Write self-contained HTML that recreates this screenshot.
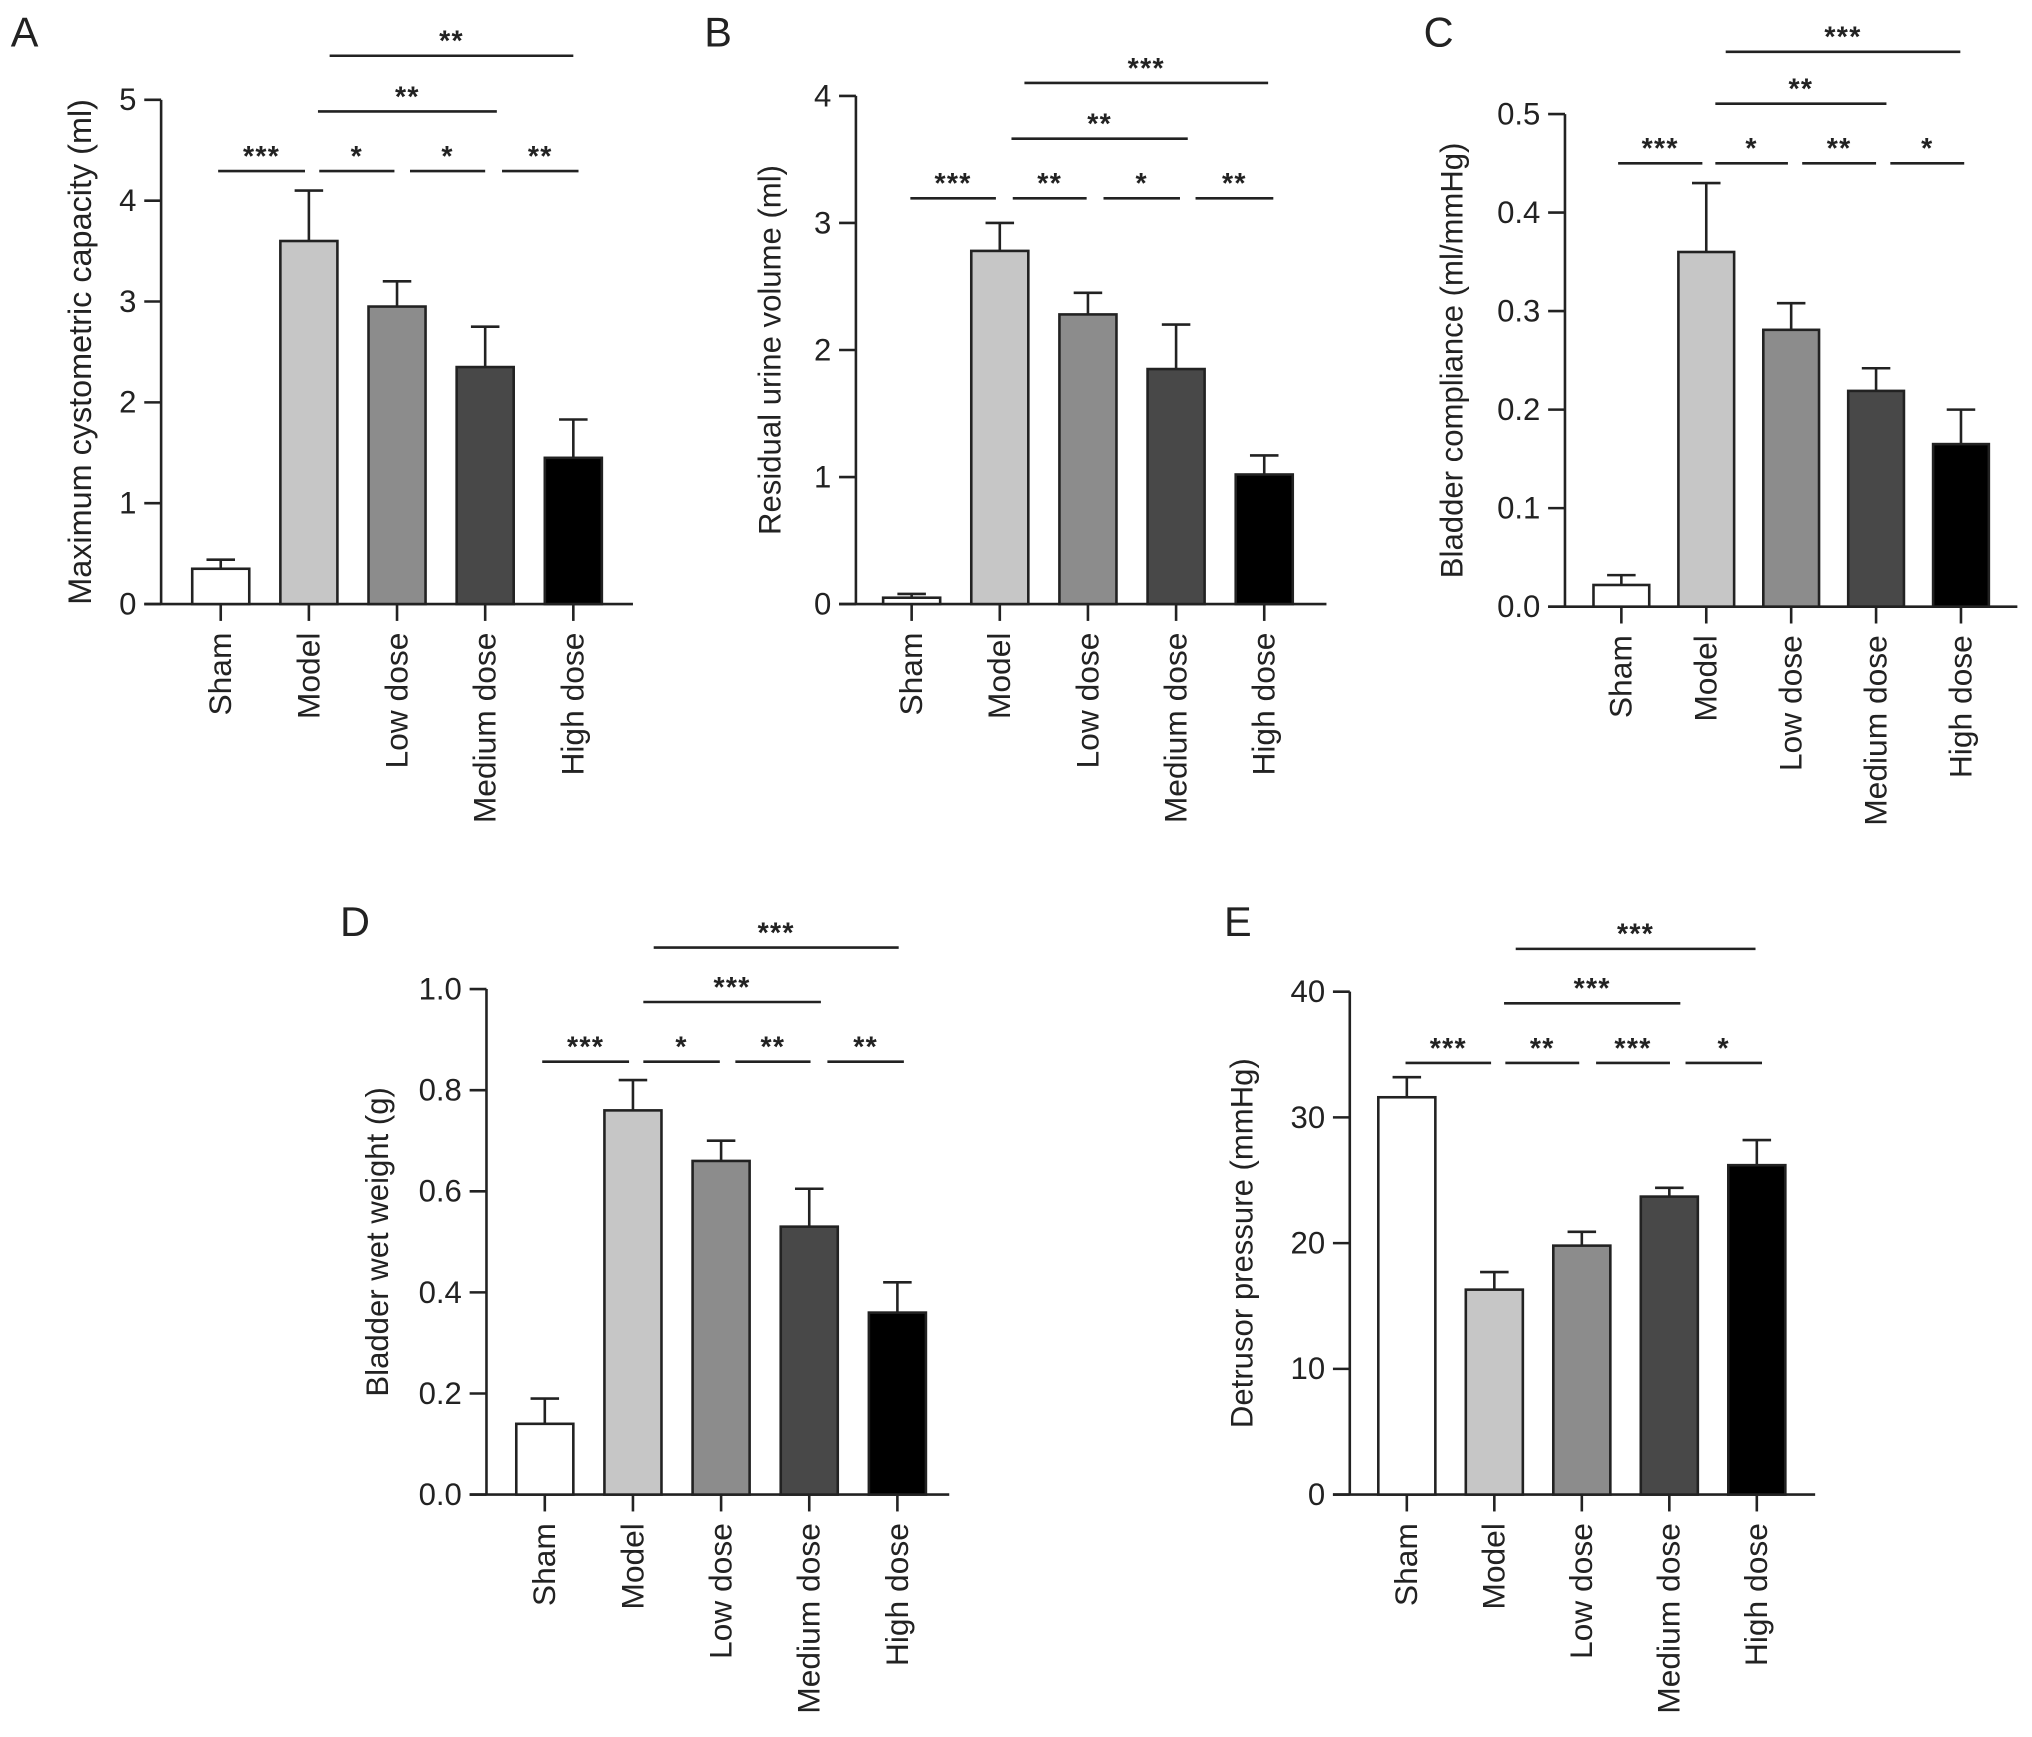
<!DOCTYPE html>
<html><head><meta charset="utf-8"><style>
html,body{margin:0;padding:0;background:#fff}
svg{display:block}
text{font-family:"Liberation Sans",Arial,sans-serif;fill:#222}
</style></head><body>
<svg id="fig" width="2032" height="1737" viewBox="0 0 1567 1340" xmlns="http://www.w3.org/2000/svg"></svg>
<script>
const categories = ["Sham","Model","Low dose","Medium dose","High dose"];
const fills = ["#ffffff","#c6c6c6","#8c8c8c","#484848","#000000"];
const valuesA = [0.35,3.6,2.95,2.35,1.45];
const errA = [0.44,4.1,3.2,2.75,1.83];
const ticksA = ["0","1","2","3","4","5"];
const valuesB = [0.05,2.78,2.28,1.85,1.02];
const errB = [0.08,3.0,2.45,2.2,1.17];
const ticksB = ["0","1","2","3","4"];
const valuesC = [0.022,0.36,0.281,0.219,0.165];
const errC = [0.032,0.43,0.308,0.242,0.2];
const ticksC = ["0.0","0.1","0.2","0.3","0.4","0.5"];
const valuesD = [0.14,0.76,0.66,0.53,0.36];
const errD = [0.19,0.82,0.70,0.605,0.42];
const ticksD = ["0.0","0.2","0.4","0.6","0.8","1.0"];
const valuesE = [31.6,16.3,19.8,23.7,26.2];
const errE = [33.2,17.7,20.9,24.4,28.2];
const ticksE = ["0","10","20","30","40"];

const NS="http://www.w3.org/2000/svg";
const svg=document.getElementById('fig');
function el(tag,attrs,parent,txt){const e=document.createElementNS(NS,tag);for(const k in attrs)e.setAttribute(k,attrs[k]);if(txt!==undefined)e.textContent=txt;(parent||svg).appendChild(e);return e;}

function panel(cfg){
  const g=el('g',{});
  
  
  const ymax=cfg.ymax;
  const Y=v=>cfg.y0-(v/ymax)*(cfg.y0-cfg.ytop);
  const L=el('text',{x:cfg.lx,y:cfg.ly,'font-size':32},g,cfg.letter);
  
  
  const ya=el('line',{x1:cfg.ax,y1:cfg.ytop,x2:cfg.ax,y2:cfg.y0,stroke:'#222','stroke-width':2},g);
  
  
  const n=cfg.ticks.length-1;
  cfg.ticks.forEach((t,i)=>{
    const v=ymax*i/n, y=Y(v);
    el('line',{x1:cfg.ax-13,y1:y,x2:cfg.ax,y2:y,stroke:'#222','stroke-width':2},g);
    const tt=el('text',{x:cfg.ax-19,y:y+8,'font-size':24,'text-anchor':'end'},g,t);
    
    
  });
  const xa=el('line',{x1:cfg.ax-13,y1:cfg.y0,x2:cfg.xend,y2:cfg.y0,stroke:'#222','stroke-width':2},g);
  
  
  const my=(cfg.y0+cfg.ytop)/2;
  const yt=el('text',{x:cfg.tx,y:my,'font-size':cfg.tfs||24,'text-anchor':'middle',transform:`rotate(-90 ${cfg.tx} ${my})`},g,cfg.title);
  
  
  categories.forEach((c,i)=>{
    const left=cfg.b0+i*cfg.pitch, cx=left+cfg.bw/2;
    const top=Y(cfg.values[i]), et=Y(cfg.err[i]);
    const eb=el('line',{x1:cx,y1:et,x2:cx,y2:top,stroke:'#222','stroke-width':2},g);
    
    
    el('line',{x1:cx-11,y1:et,x2:cx+11,y2:et,stroke:'#222','stroke-width':2},g);
    const r=el('rect',{x:left,y:top,width:cfg.bw,height:cfg.y0-top,fill:fills[i],stroke:'#222','stroke-width':2},g);
    
    
    el('line',{x1:cx,y1:cfg.y0,x2:cx,y2:cfg.y0+13,stroke:'#222','stroke-width':2},g);
    const ct=el('text',{x:cx+8,y:cfg.y0+22,'font-size':24.5,'text-anchor':'end',transform:`rotate(-90 ${cx+8} ${cfg.y0+22})`},g,c);
    
    
  });
  cfg.sig.forEach(s=>{
    const ln=el('line',{x1:s[0],y1:s[2],x2:s[1],y2:s[2],stroke:'#222','stroke-width':2},g);
    
    
    const st=el('text',{x:(s[0]+s[1])/2,y:s[2]-4,'font-size':22,'font-weight':'bold','text-anchor':'middle','letter-spacing':1},g,s[3]);
    
    
  });
}

panel({letter:'A',lx:8,ly:36,ax:124,y0:466,ytop:77,ymax:5,xend:488,b0:148,bw:44,pitch:68,tx:70,tfs:25,
  title:'Maximum cystometric capacity (ml)',ticks:ticksA,values:valuesA,err:errA,
  sig:[[254,442,43,'**'],[245,383,86,'**'],[168,235,132,'***'],[246,304,132,'*'],[316,374,132,'*'],[387,446,132,'**']]});
panel({letter:'B',lx:543,ly:36,ax:660,y0:466,ytop:74,ymax:4,xend:1023,b0:681,bw:44,pitch:68,tx:602,
  title:'Residual urine volume (ml)',ticks:ticksB,values:valuesB,err:errB,
  sig:[[790,978,64,'***'],[780,916,107,'**'],[702,768,153,'***'],[781,838,153,'**'],[851,910,153,'*'],[922,982,153,'**']]});
panel({letter:'C',lx:1098,ly:36,ax:1207,y0:468,ytop:88,ymax:0.5,xend:1556,b0:1229,bw:43,pitch:65.5,tx:1128,
  title:'Bladder compliance (ml/mmHg)',ticks:ticksC,values:valuesC,err:errC,
  sig:[[1331,1512,40,'***'],[1323,1455,80,'**'],[1248,1313,126,'***'],[1323,1379,126,'*'],[1390,1447,126,'**'],[1458,1515,126,'*']]});
panel({letter:'D',lx:262,ly:722,ax:375,y0:1153,ytop:763,ymax:1.0,xend:732,b0:398,bw:44,pitch:68,tx:299,
  title:'Bladder wet weight (g)',ticks:ticksD,values:valuesD,err:errD,
  sig:[[504,693,731,'***'],[496,633,773,'***'],[418,485,819,'***'],[496,555,819,'*'],[567,625,819,'**'],[638,697,819,'**']]});
panel({letter:'E',lx:944,ly:722,ax:1041,y0:1153,ytop:765,ymax:40,xend:1400,b0:1063,bw:44,pitch:67.5,tx:966,
  title:'Detrusor pressure (mmHg)',ticks:ticksE,values:valuesE,err:errE,
  sig:[[1169,1354,732,'***'],[1160,1296,774,'***'],[1084,1150,820,'***'],[1161,1218,820,'**'],[1231,1288,820,'***'],[1300,1359,820,'*']]});
</script>
</body></html>
